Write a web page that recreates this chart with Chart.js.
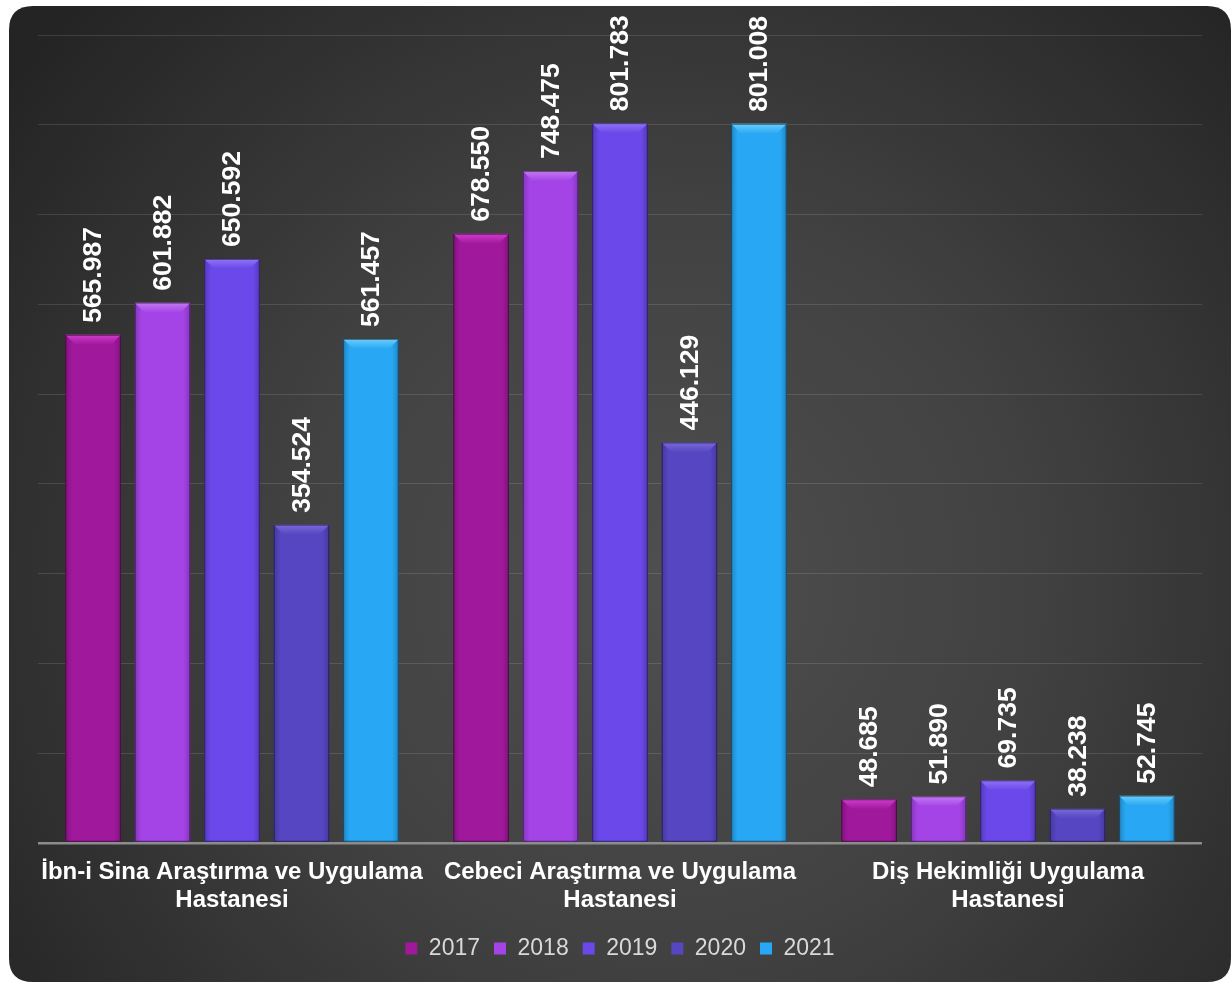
<!DOCTYPE html>
<html>
<head>
<meta charset="utf-8">
<script src="https://cdn.jsdelivr.net/npm/chart.js@4.4.0/dist/chart.umd.min.js"></script>
<style>
html,body{margin:0;padding:0;background:#ffffff;}
#wrap{width:1231px;height:982px;position:relative;}
</style>
</head>
<body>
<div id="wrap"><canvas id="c" width="1231" height="982"></canvas></div>
<script>
// ---- data ----
const categories = [
  ["İbn-i Sina Araştırma ve Uygulama", "Hastanesi"],
  ["Cebeci Araştırma ve Uygulama", "Hastanesi"],
  ["Diş Hekimliği Uygulama", "Hastanesi"]
];
const years = ["2017", "2018", "2019", "2020", "2021"];
const values2017 = [565987, 678550, 48685];
const values2018 = [601882, 748475, 51890];
const values2019 = [650592, 801783, 69735];
const values2020 = [354524, 446129, 38238];
const values2021 = [561457, 801008, 52745];
const yMax = 900000;
const yStep = 100000;

// ---- styles ----
const fills  = ["#a0189c", "#a444e6", "#6a48ea", "#5646c2", "#28a8f4"];
const bevels = ["#cf3ccb", "#c47af2", "#8f74f4", "#7a6ad8", "#6cccfb"];
const darks  = ["#6a0f68", "#7a2fb0", "#4a30b0", "#3a2e8a", "#1a78b4"];

const seriesValues = [values2017, values2018, values2019, values2020, values2021];

function fmt(n){
  return String(n).replace(/\B(?=(\d{3})+(?!\d))/g, ".");
}

const bgPlugin = {
  id: 'bgCard',
  beforeDraw(chart){
    const ctx = chart.ctx;
    const W = chart.width, H = chart.height;
    ctx.save();
    ctx.fillStyle = '#ffffff';
    ctx.fillRect(0,0,W,H);
    const x=9, y=6, w=W-9, h=H-6, r=24;
    ctx.beginPath();
    ctx.moveTo(x+r,y);
    ctx.lineTo(x+w-r,y);
    ctx.quadraticCurveTo(x+w,y,x+w,y+r);
    ctx.lineTo(x+w,y+h-r);
    ctx.quadraticCurveTo(x+w,y+h,x+w-r,y+h);
    ctx.lineTo(x+r,y+h);
    ctx.quadraticCurveTo(x,y+h,x,y+h-r);
    ctx.lineTo(x,y+r);
    ctx.quadraticCurveTo(x,y,x+r,y);
    ctx.closePath();
    const g = ctx.createRadialGradient(660, 580, 20, 660, 580, 820);
    g.addColorStop(0, '#4e4e4e');
    g.addColorStop(0.45, '#414141');
    g.addColorStop(1, '#242424');
    ctx.fillStyle = g;
    ctx.fill();
    ctx.restore();
  }
};

const bevelPlugin = {
  id: 'bevel',
  afterDatasetsDraw(chart){
    const ctx = chart.ctx;
    chart.data.datasets.forEach((ds, di) => {
      const meta = chart.getDatasetMeta(di);
      if (meta.hidden) return;
      meta.data.forEach(el => {
        const p = el.getProps(['x','y','base','width'], true);
        const l = p.x - p.width/2, r = p.x + p.width/2, t = p.y, b = p.base;
        const bv = Math.min(10, (b - t)/2);
        ctx.save();
        const sg = ctx.createLinearGradient(l, 0, r, 0);
        sg.addColorStop(0, 'rgba(0,0,0,0.2)');
        sg.addColorStop(0.12, 'rgba(0,0,0,0)');
        sg.addColorStop(0.88, 'rgba(0,0,0,0)');
        sg.addColorStop(1, 'rgba(0,0,0,0.2)');
        ctx.fillStyle = sg;
        ctx.fillRect(l, t, r-l, b-t);
        const tg = ctx.createLinearGradient(0, t, 0, t+bv);
        tg.addColorStop(0, bevels[di]);
        tg.addColorStop(1, fills[di]);
        ctx.beginPath();
        ctx.moveTo(l, t); ctx.lineTo(r, t); ctx.lineTo(r-bv, t+bv); ctx.lineTo(l+bv, t+bv); ctx.closePath();
        ctx.fillStyle = tg;
        ctx.fill();
        ctx.strokeStyle = 'rgba(0,0,0,0.45)';
        ctx.lineWidth = 1;
        ctx.strokeRect(l+0.5, t+0.5, r-l-1, b-t-1);
        ctx.restore();
      });
    });
  }
};

const labelPlugin = {
  id: 'valLabels',
  afterDatasetsDraw(chart){
    const ctx = chart.ctx;
    chart.data.datasets.forEach((ds, di) => {
      const meta = chart.getDatasetMeta(di);
      if (meta.hidden) return;
      meta.data.forEach((el, i) => {
        const p = el.getProps(['x','y'], true);
        ctx.save();
        ctx.translate(p.x + 1, p.y - 12);
        ctx.rotate(-Math.PI/2);
        ctx.font = 'bold 26.5px "Liberation Sans", Arial, sans-serif';
        ctx.fillStyle = '#ffffff';
        ctx.textAlign = 'left';
        ctx.textBaseline = 'middle';
        ctx.fillText(fmt(ds.data[i]), 0, 0);
        ctx.restore();
      });
    });
  }
};

const datasets = years.map((yr, i) => ({
  label: yr,
  data: seriesValues[i],
  backgroundColor: fills[i],
  borderColor: darks[i],
  borderWidth: 0,
  barPercentage: 0.8,
  categoryPercentage: 0.895
}));

new Chart(document.getElementById('c'), {
  type: 'bar',
  data: { labels: categories, datasets },
  plugins: [bgPlugin, bevelPlugin, labelPlugin],
  options: {
    responsive: false,
    animation: false,
    devicePixelRatio: 1,
    layout: { padding: { left: 38, right: 29, top: 35, bottom: 12 } },
    plugins: {
      tooltip: { enabled: false },
      legend: {
        position: 'bottom',
        labels: {
          color: '#d9d9d9',
          font: { family: '"Liberation Sans", Arial, sans-serif', size: 23 },
          boxWidth: 12,
          boxHeight: 12,
          padding: 14
        }
      }
    },
    scales: {
      x: {
        afterFit(scale){ scale.height = 80; },
        grid: { display: false, drawTicks: false },
        border: { display: false },
        ticks: {
          color: '#ffffff',
          padding: 15,
          maxRotation: 0,
          autoSkip: false,
          font: { family: '"Liberation Sans", Arial, sans-serif', size: 24, weight: 'bold', lineHeight: 1.17 }
        }
      },
      y: {
        min: 0,
        max: yMax,
        afterFit(scale){ scale.width = 0; },
        ticks: { display: false, stepSize: yStep },
        border: { display: false },
        grid: {
          drawTicks: false,
          color: ctx => ctx.tick && ctx.tick.value === 0 ? '#8c8c8c' : 'rgba(255,255,255,0.12)',
          lineWidth: ctx => ctx.tick && ctx.tick.value === 0 ? 2.5 : 1
        }
      }
    }
  }
});
</script>
</body>
</html>
